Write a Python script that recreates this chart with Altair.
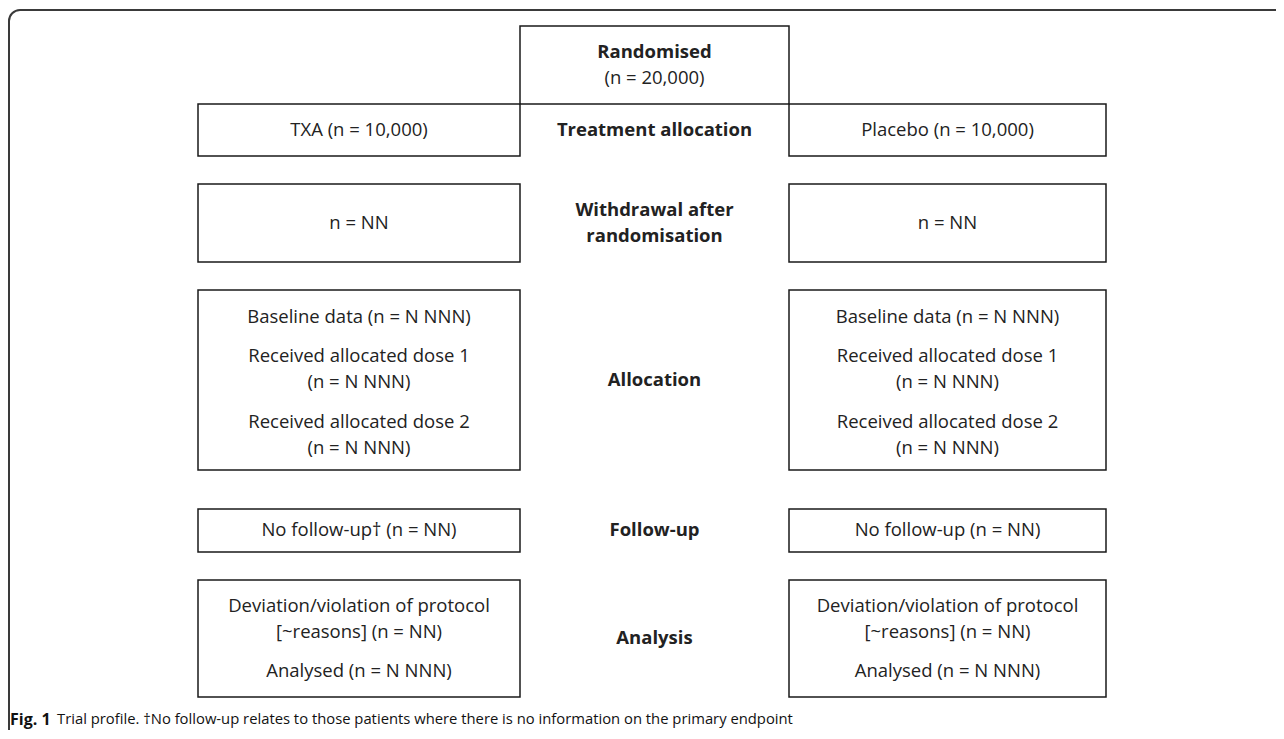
import altair as alt
import pandas as pd
import math

# ---------------- content ----------------
randomised_lines = ["Randomised", "(n = 20,000)"]
stage_labels = [
    ["Treatment allocation"],
    ["Withdrawal after", "randomisation"],
    ["Allocation"],
    ["Follow-up"],
    ["Analysis"],
]
txa_lines = [
    ["TXA (n = 10,000)"],
    ["n = NN"],
    ["Baseline data (n = N NNN)", "Received allocated dose 1", "(n = N NNN)",
     "Received allocated dose 2", "(n = N NNN)"],
    ["No follow-up\u2020 (n = NN)"],
    ["Deviation/violation of protocol", "[~reasons] (n = NN)", "Analysed (n = N NNN)"],
]
placebo_lines = [
    ["Placebo (n = 10,000)"],
    ["n = NN"],
    ["Baseline data (n = N NNN)", "Received allocated dose 1", "(n = N NNN)",
     "Received allocated dose 2", "(n = N NNN)"],
    ["No follow-up (n = NN)"],
    ["Deviation/violation of protocol", "[~reasons] (n = NN)", "Analysed (n = N NNN)"],
]
caption_bold = "Fig. 1"
caption_rest = "Trial profile. \u2020No follow-up relates to those patients where there is no information on the primary endpoint"

# ---------------- layout (page pixel coordinates) ----------------
PAGE_X0, PAGE_Y0 = 8, 8
W, H = 1268, 722
left_col = (198, 520)
mid_col = (520, 789)
right_col = (789, 1106)
randomised_box = (26, 104)
row_tops = [104, 184, 290, 509, 580]
row_bottoms = [156, 262, 470, 552, 697]
row_line_y = [
    [130],
    [223],
    [317, 356, 382, 422, 448],
    [530],
    [606, 632, 671],
]
stage_line_y = [[130], [210, 236], [380], [530], [638]]
randomised_line_y = [52, 78]
caption_y = 720
caption_x = [10, 57]
frame_left, frame_top, frame_r = 9, 10, 11

FONT = "Open Sans"
FS = 18.5

# ---------------- tables ----------------
boxes = [dict(x=mid_col[0], x2=mid_col[1], y=randomised_box[0], y2=randomised_box[1])]
for t, b in zip(row_tops, row_bottoms):
    boxes.append(dict(x=left_col[0], x2=left_col[1], y=t, y2=b))
    boxes.append(dict(x=right_col[0], x2=right_col[1], y=t, y2=b))
boxes_df = pd.DataFrame(boxes)

regular = []
for i, lines in enumerate(txa_lines):
    for txt, yy in zip(lines, row_line_y[i]):
        regular.append(dict(x=(left_col[0] + left_col[1]) / 2, y=yy, t=txt))
for i, lines in enumerate(placebo_lines):
    for txt, yy in zip(lines, row_line_y[i]):
        regular.append(dict(x=(right_col[0] + right_col[1]) / 2, y=yy, t=txt))
regular.append(dict(x=(mid_col[0] + mid_col[1]) / 2, y=randomised_line_y[1], t=randomised_lines[1]))
regular_df = pd.DataFrame(regular)

bold = [dict(x=(mid_col[0] + mid_col[1]) / 2, y=randomised_line_y[0], t=randomised_lines[0])]
for lines, ys in zip(stage_labels, stage_line_y):
    for txt, yy in zip(lines, ys):
        bold.append(dict(x=(mid_col[0] + mid_col[1]) / 2, y=yy, t=txt))
bold_df = pd.DataFrame(bold)

hrule_df = pd.DataFrame([dict(x=frame_left + frame_r, x2=PAGE_X0 + W + 20, y=frame_top)])
vrule_df = pd.DataFrame([dict(x=frame_left, y=frame_top + frame_r, y2=PAGE_Y0 + H + 20)])
arc_df = pd.DataFrame([dict(x=frame_left + frame_r, y=frame_top + frame_r)])
cap_b_df = pd.DataFrame([dict(x=caption_x[0], y=caption_y, t=caption_bold)])
cap_r_df = pd.DataFrame([dict(x=caption_x[1], y=caption_y, t=caption_rest)])

xs = alt.Scale(domain=[PAGE_X0, PAGE_X0 + W], nice=False, zero=False)
ys = alt.Scale(domain=[PAGE_Y0, PAGE_Y0 + H], nice=False, zero=False, reverse=True)
FRAME_COLOR = "#3a3a3a"

hrule = alt.Chart(hrule_df).mark_rule(stroke=FRAME_COLOR, strokeWidth=2, clip=True).encode(
    x=alt.X("x:Q", scale=xs, axis=None), x2="x2:Q", y=alt.Y("y:Q", scale=ys, axis=None)
)
vrule = alt.Chart(vrule_df).mark_rule(stroke=FRAME_COLOR, strokeWidth=2, clip=True).encode(
    x=alt.X("x:Q", scale=xs, axis=None), y=alt.Y("y:Q", scale=ys, axis=None), y2="y2:Q"
)
corner = alt.Chart(arc_df).mark_arc(
    radius=frame_r, radius2=frame_r, theta=1.5 * math.pi, theta2=2 * math.pi,
    fill=None, stroke=FRAME_COLOR, strokeWidth=2
).encode(
    x=alt.X("x:Q", scale=xs, axis=None), y=alt.Y("y:Q", scale=ys, axis=None)
)

rects = alt.Chart(boxes_df).mark_rect(
    fill=None, stroke="#1a1a1a", strokeWidth=1.5
).encode(
    x=alt.X("x:Q", scale=xs, axis=None), x2="x2:Q",
    y=alt.Y("y:Q", scale=ys, axis=None), y2="y2:Q",
)

reg_text = alt.Chart(regular_df).mark_text(
    font=FONT, fontSize=FS, color="#222222", align="center", baseline="middle"
).encode(
    x=alt.X("x:Q", scale=xs, axis=None), y=alt.Y("y:Q", scale=ys, axis=None), text="t:N"
)

bold_text = alt.Chart(bold_df).mark_text(
    font=FONT, fontSize=FS, fontWeight="bold", color="#222222", align="center", baseline="middle"
).encode(
    x=alt.X("x:Q", scale=xs, axis=None), y=alt.Y("y:Q", scale=ys, axis=None), text="t:N"
)

cap_b = alt.Chart(cap_b_df).mark_text(
    font=FONT, fontSize=16, fontWeight="bold", color="#111111", align="left", baseline="middle"
).encode(
    x=alt.X("x:Q", scale=xs, axis=None), y=alt.Y("y:Q", scale=ys, axis=None), text="t:N"
)
cap_r = alt.Chart(cap_r_df).mark_text(
    font=FONT, fontSize=14.8, color="#111111", align="left", baseline="middle"
).encode(
    x=alt.X("x:Q", scale=xs, axis=None), y=alt.Y("y:Q", scale=ys, axis=None), text="t:N"
)

chart = alt.layer(hrule, vrule, corner, rects, reg_text, bold_text, cap_b, cap_r).properties(
    width=W, height=H, padding=0, autosize=alt.AutoSizeParams(type="none")
).configure_view(stroke=None)

chart.save("out.html", embed_options={"renderer": "svg", "actions": False})
